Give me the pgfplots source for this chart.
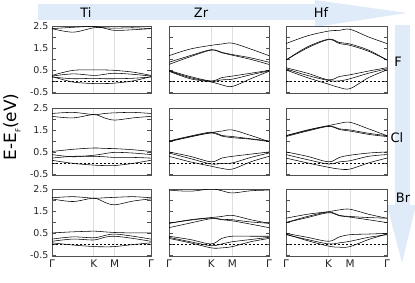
\documentclass[border=0pt]{standalone}
\usepackage{pgfplots}
\pgfplotsset{compat=1.18}
\usepackage{fontspec}
\setmainfont{DejaVu Sans}
\definecolor{banner}{RGB}{224,235,249}
\definecolor{frame}{RGB}{80,80,80}
\pgfplotsset{
  bandpanel/.style={scale only axis, height=67bp,
    xmin=0, xmax=3.155, ymin=-0.55, ymax=2.5,
    xtick={1.333,2}, xticklabels={}, xmajorgrids,
    grid style={gray!25, line width=0.9pt},
    major x tick style={draw=none},
    ytick={-0.5,0,...,2.5}, yticklabels={},
    tick align=inside, major tick length=3.5bp,
    ytick pos=both, yticklabel pos=left,
    major y tick style={frame, line width=0.7pt},
    axis line style={frame, line width=0.9pt},
    tick label style={font=\fontsize{9.5}{10}\selectfont, text=black!85},
    anchor=north west, clip=true},
  lcol/.style={yticklabels={-0.5,,0.5,,1.5,,2.5}},
  brow/.style={xtick={0,1.333,2,3.155}, xticklabels={Γ,K,M,Γ},
    xticklabel style={font=\fontsize{10.5}{11}\selectfont, yshift=0bp}},
  band/.style={black, line width=0.55pt, smooth, tension=0.55, mark=none},
}
\newcommand{\fermi}{\addplot[black, line width=0.5pt, dash pattern=on 2.5pt off 1.5pt] coordinates {(0,0) (3.155,0)};}
\begin{document}
\begin{tikzpicture}
\useasboundingbox (0bp,0bp) rectangle (415bp,-283bp);
% banners
\fill[banner] (38bp,-4bp) rectangle (316bp,-20bp);
\fill[banner] (315bp,0bp) -- (407bp,-13bp) -- (315bp,-27bp) -- cycle;
\fill[banner] (395bp,-25bp) rectangle (410bp,-206bp);
\fill[banner] (387bp,-205bp) -- (416bp,-205bp) -- (402bp,-263bp) -- cycle;
\node[font=\fontsize{13}{15}\selectfont] at (86bp,-13bp) {Ti};
\node[font=\fontsize{13}{15}\selectfont] at (201bp,-13bp) {Zr};
\node[font=\fontsize{13}{15}\selectfont] at (321bp,-13bp) {Hf};
\node[font=\fontsize{13}{15}\selectfont] at (398bp,-62bp) {F};
\node[font=\fontsize{13}{15}\selectfont] at (397bp,-138bp) {Cl};
\node[font=\fontsize{13}{15}\selectfont] at (403bp,-198bp) {Br};
\node[rotate=90, font=\fontsize{17}{19}\selectfont] at (12bp,-127bp) {E-E\raisebox{-0.5ex}{\fontsize{7}{8}\selectfont F}(eV)};

% ---------------- Row 1: F ----------------
\begin{axis}[bandpanel, lcol, at={(52bp,-26bp)}, width=99bp]
\fermi
\addplot[band] coordinates {(0,2.38)(0.667,2.44)(1.333,2.48)(1.667,2.4)(2,2.3)(2.58,2.33)(3.155,2.38)};
\addplot[band] coordinates {(0,2.38)(0.667,2.22)(1.333,2.42)(1.667,2.42)(2,2.40)(2.58,2.42)(3.155,2.38)};
\addplot[band] coordinates {(0,0.25)(0.667,0.48)(1.333,0.5)(1.667,0.5)(2,0.48)(2.58,0.4)(3.155,0.25)};
\addplot[band] coordinates {(0,0.22)(0.667,0.32)(1.333,0.25)(1.667,0.3)(2,0.35)(2.58,0.3)(3.155,0.22)};
\addplot[band] coordinates {(0,0.18)(0.667,0.1)(1.333,0.12)(1.667,0.1)(2,0.1)(2.58,0.12)(3.155,0.18)};
\addplot[band] coordinates {(0,0.2)(0.667,-0.05)(1.333,-0.12)(1.667,-0.12)(2,-0.1)(2.58,0.0)(3.155,0.2)};
\end{axis}
\begin{axis}[bandpanel, at={(169bp,-26bp)}, width=100bp]
\fermi
\addplot[band] coordinates {(0,1.15)(0.667,1.45)(1.333,1.62)(1.667,1.68)(2,1.72)(2.58,1.45)(3.155,1.15)};
\addplot[band] coordinates {(0,0.85)(0.667,1.15)(1.333,1.42)(1.667,1.3)(2,1.2)(2.58,1.05)(3.155,0.85)};
\addplot[band] coordinates {(0,0.75)(0.667,1.1)(1.333,1.4)(1.667,1.28)(2,1.17)(2.58,0.98)(3.155,0.75)};
\addplot[band] coordinates {(0,0.48)(0.667,0.2)(1.333,0.0)(1.667,0.15)(2,0.22)(2.58,0.35)(3.155,0.48)};
\addplot[band] coordinates {(0,0.46)(0.667,0.15)(1.333,-0.02)(1.667,0.05)(2,0.08)(2.58,0.28)(3.155,0.46)};
\addplot[band] coordinates {(0,0.44)(0.667,0.1)(1.333,-0.05)(1.667,-0.18)(2,-0.25)(2.58,0.1)(3.155,0.44)};
\end{axis}
\begin{axis}[bandpanel, at={(286bp,-26bp)}, width=101bp]
\fermi
\addplot[band] coordinates {(0,1.7)(0.667,2.05)(1.333,2.27)(1.667,2.3)(2,2.35)(2.58,2.0)(3.155,1.7)};
\addplot[band] coordinates {(0,0.95)(0.667,1.55)(1.333,1.9)(1.667,1.75)(2,1.68)(2.58,1.4)(3.155,0.95)};
\addplot[band] coordinates {(0,0.95)(0.667,1.5)(1.333,1.88)(1.667,1.7)(2,1.62)(2.58,1.35)(3.155,0.95)};
\addplot[band] coordinates {(0,0.6)(0.667,0.35)(1.333,0.05)(1.667,0.2)(2,0.28)(2.58,0.45)(3.155,0.6)};
\addplot[band] coordinates {(0,0.55)(0.667,0.25)(1.333,0.02)(1.667,0.0)(2,0.1)(2.58,0.35)(3.155,0.55)};
\addplot[band] coordinates {(0,0.5)(0.667,0.15)(1.333,-0.15)(1.667,-0.3)(2,-0.35)(2.58,0.15)(3.155,0.5)};
\end{axis}

% ---------------- Row 2: Cl ----------------
\begin{axis}[bandpanel, lcol, at={(52bp,-108bp)}, width=99bp]
\fermi
\addplot[band] coordinates {(0,2.25)(0.667,2.3)(1.333,2.2)(1.667,2.25)(2,2.28)(2.58,2.3)(3.155,2.25)};
\addplot[band] coordinates {(0,2.12)(0.667,2.05)(1.333,2.2)(1.667,2.05)(2,1.95)(2.58,2.05)(3.155,2.12)};
\addplot[band] coordinates {(0,0.52)(0.667,0.62)(1.333,0.68)(1.667,0.66)(2,0.65)(2.58,0.6)(3.155,0.52)};
\addplot[band] coordinates {(0,0.38)(0.667,0.28)(1.333,0.35)(1.667,0.42)(2,0.48)(2.58,0.45)(3.155,0.38)};
\addplot[band] coordinates {(0,0.22)(0.667,0.3)(1.333,0.3)(1.667,0.28)(2,0.25)(2.58,0.25)(3.155,0.22)};
\addplot[band] coordinates {(0,0.12)(0.667,-0.02)(1.333,-0.1)(1.667,-0.12)(2,-0.12)(2.58,-0.02)(3.155,0.12)};
\end{axis}
\begin{axis}[bandpanel, at={(169bp,-108bp)}, width=100bp]
\fermi
\addplot[band] coordinates {(0,0.97)(0.667,1.2)(1.333,1.38)(1.667,1.45)(2,1.5)(2.58,1.25)(3.155,0.97)};
\addplot[band] coordinates {(0,0.97)(0.667,1.18)(1.333,1.36)(1.667,1.22)(2,1.15)(2.58,1.08)(3.155,0.97)};
\addplot[band] coordinates {(0,1.0)(0.667,1.22)(1.333,1.4)(1.667,1.25)(2,1.2)(2.58,1.1)(3.155,1.0)};
\addplot[band] coordinates {(0,0.5)(0.667,0.3)(1.333,0.05)(1.667,0.22)(2,0.3)(2.58,0.4)(3.155,0.5)};
\addplot[band] coordinates {(0,0.45)(0.667,0.2)(1.333,-0.05)(1.667,-0.02)(2,0.0)(2.58,0.25)(3.155,0.45)};
\addplot[band] coordinates {(0,0.3)(0.667,0.05)(1.333,-0.15)(1.667,-0.25)(2,-0.28)(2.58,0.05)(3.155,0.3)};
\end{axis}
\begin{axis}[bandpanel, at={(286bp,-108bp)}, width=101bp]
\fermi
\addplot[band] coordinates {(0,1.24)(0.667,1.5)(1.333,1.7)(1.667,1.8)(2,1.85)(2.58,1.55)(3.155,1.24)};
\addplot[band] coordinates {(0,1.24)(0.667,1.48)(1.333,1.68)(1.667,1.55)(2,1.5)(2.58,1.35)(3.155,1.24)};
\addplot[band] coordinates {(0,1.2)(0.667,1.45)(1.333,1.66)(1.667,1.52)(2,1.45)(2.58,1.3)(3.155,1.2)};
\addplot[band] coordinates {(0,0.5)(0.667,0.3)(1.333,0.05)(1.667,0.25)(2,0.35)(2.58,0.45)(3.155,0.5)};
\addplot[band] coordinates {(0,0.38)(0.667,0.15)(1.333,-0.05)(1.667,0.05)(2,0.1)(2.58,0.3)(3.155,0.38)};
\addplot[band] coordinates {(0,0.22)(0.667,0.0)(1.333,-0.2)(1.667,-0.28)(2,-0.28)(2.58,0.0)(3.155,0.22)};
\end{axis}

% ---------------- Row 3: Br ----------------
\begin{axis}[bandpanel, lcol, brow, at={(52bp,-189bp)}, width=99bp]
\fermi
\addplot[band] coordinates {(0,2.1)(0.667,2.15)(1.333,2.08)(1.667,2.1)(2,2.12)(2.58,2.15)(3.155,2.1)};
\addplot[band] coordinates {(0,2.05)(0.667,1.93)(1.333,2.08)(1.667,1.9)(2,1.78)(2.58,1.95)(3.155,2.05)};
\addplot[band] coordinates {(0,0.5)(0.667,0.55)(1.333,0.58)(1.667,0.55)(2,0.52)(2.58,0.5)(3.155,0.5)};
\addplot[band] coordinates {(0,0.22)(0.667,0.32)(1.333,0.28)(1.667,0.38)(2,0.45)(2.58,0.35)(3.155,0.22)};
\addplot[band] coordinates {(0,0.12)(0.667,0.22)(1.333,0.18)(1.667,0.3)(2,0.35)(2.58,0.25)(3.155,0.12)};
\addplot[band] coordinates {(0,0.05)(0.667,-0.05)(1.333,-0.12)(1.667,-0.13)(2,-0.12)(2.58,-0.03)(3.155,0.05)};
\end{axis}
\begin{axis}[bandpanel, brow, at={(169bp,-189bp)}, width=100bp]
\fermi
\addplot[band] coordinates {(0,2.45)(0.667,2.4)(1.333,2.5)(1.667,2.42)(2,2.32)(2.58,2.42)(3.155,2.45)};
\addplot[band] coordinates {(0,0.94)(0.667,1.1)(1.333,1.2)(1.667,1.25)(2,1.3)(2.58,1.1)(3.155,0.94)};
\addplot[band] coordinates {(0,0.94)(0.667,1.08)(1.333,1.18)(1.667,1.12)(2,1.1)(2.58,1.0)(3.155,0.94)};
\addplot[band] coordinates {(0,0.74)(0.667,0.95)(1.333,1.15)(1.667,1.1)(2,1.05)(2.58,0.9)(3.155,0.74)};
\addplot[band] coordinates {(0,0.35)(0.667,0.2)(1.333,0.0)(1.667,0.25)(2,0.35)(2.58,0.35)(3.155,0.35)};
\addplot[band] coordinates {(0,0.3)(0.667,0.1)(1.333,-0.08)(1.667,0.0)(2,0.1)(2.58,0.2)(3.155,0.3)};
\addplot[band] coordinates {(0,0.25)(0.667,0.05)(1.333,-0.18)(1.667,-0.18)(2,-0.12)(2.58,0.1)(3.155,0.25)};
\end{axis}
\begin{axis}[bandpanel, brow, at={(286bp,-189bp)}, width=101bp]
\fermi
\addplot[band] coordinates {(0,1.17)(0.667,1.35)(1.333,1.47)(1.667,1.55)(2,1.58)(2.58,1.35)(3.155,1.17)};
\addplot[band] coordinates {(0,0.97)(0.667,1.25)(1.333,1.45)(1.667,1.3)(2,1.25)(2.58,1.2)(3.155,1.17)};
\addplot[band] coordinates {(0,0.97)(0.667,1.2)(1.333,1.42)(1.667,1.28)(2,1.22)(2.58,1.1)(3.155,0.97)};
\addplot[band] coordinates {(0,0.48)(0.667,0.3)(1.333,0.12)(1.667,0.32)(2,0.42)(2.58,0.45)(3.155,0.48)};
\addplot[band] coordinates {(0,0.42)(0.667,0.2)(1.333,0.0)(1.667,0.05)(2,0.12)(2.58,0.3)(3.155,0.42)};
\addplot[band] coordinates {(0,0.45)(0.667,0.15)(1.333,-0.1)(1.667,-0.15)(2,-0.12)(2.58,0.2)(3.155,0.45)};
\end{axis}
\end{tikzpicture}
\end{document}
